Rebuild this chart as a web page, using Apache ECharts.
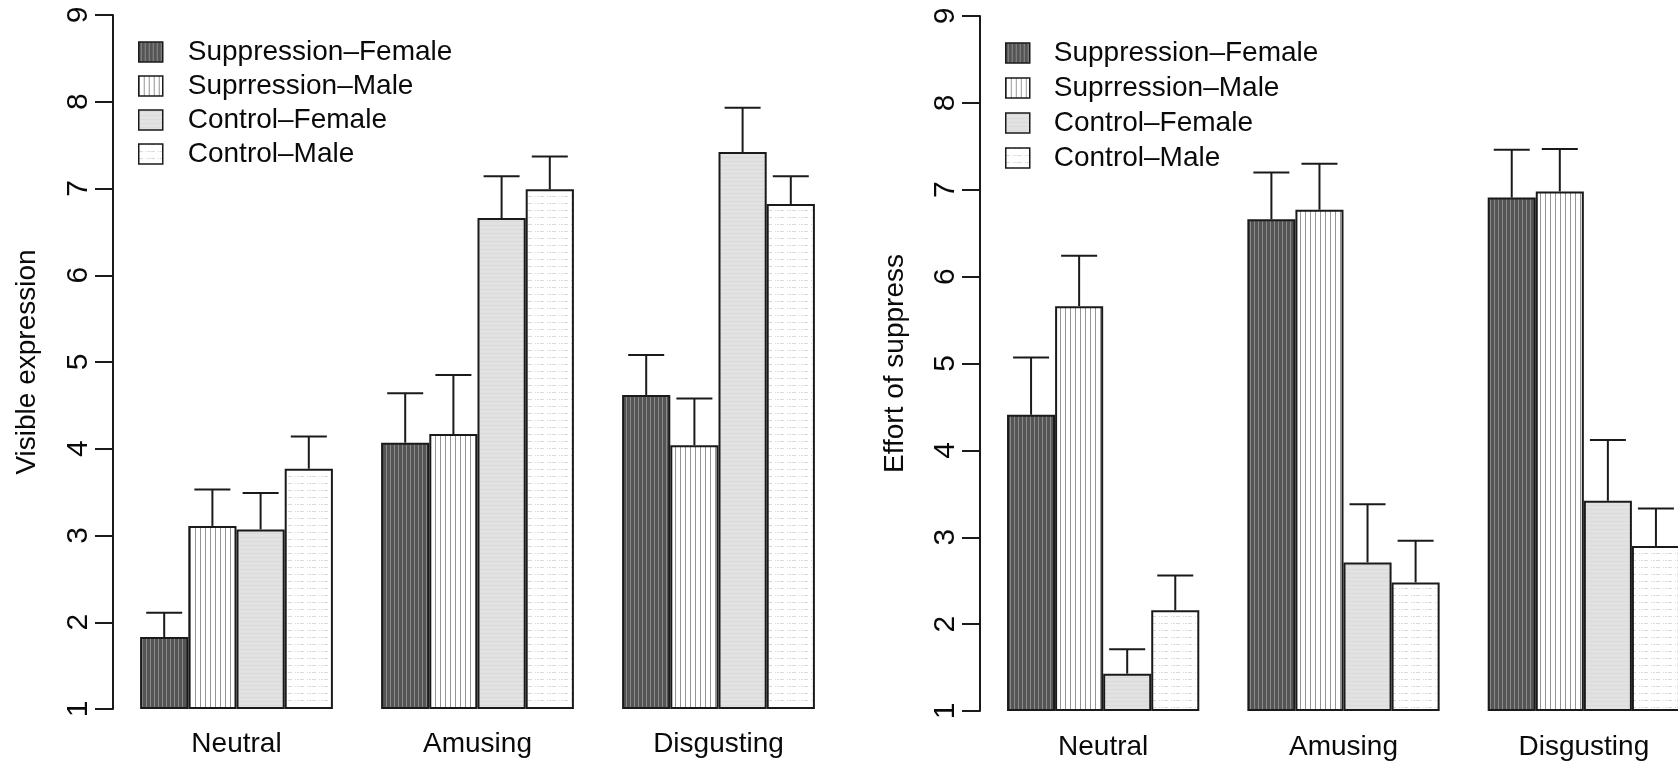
<!DOCTYPE html>
<html>
<head>
<meta charset="utf-8">
<script src="https://cdn.jsdelivr.net/npm/echarts@6/dist/echarts.min.js"></script>
<style>
  html, body { margin: 0; padding: 0; background: #fff; overflow: hidden; }
  /* wider than the window: the last bar is cut at the right edge like the scan */
  #chart { width: 1720px; height: 769px; }
</style>
</head>
<body>
<div id="chart"></div>
<script>
const categories = ["Neutral", "Amusing", "Disgusting"];
const groupNames = ["Suppression–Female", "Suprression–Male", "Control–Female", "Control–Male"];

// left panel: visible expression (bar height, top of error bar)
const visSupFemale = [1.83, 4.07, 4.62];
const visSupFemaleTop = [2.11, 4.64, 5.08];
const visSupMale = [3.11, 4.17, 4.04];
const visSupMaleTop = [3.53, 4.85, 4.58];
const visCtlFemale = [3.07, 6.66, 7.42];
const visCtlFemaleTop = [3.49, 7.14, 7.93];
const visCtlMale = [3.77, 6.99, 6.82];
const visCtlMaleTop = [4.14, 7.37, 7.14];

// right panel: effort of suppress
const effSupFemale = [4.41, 6.66, 6.91];
const effSupFemaleTop = [5.07, 7.20, 7.46];
const effSupMale = [5.66, 6.77, 6.98];
const effSupMaleTop = [6.24, 7.30, 7.47];
const effCtlFemale = [1.43, 2.71, 3.42];
const effCtlFemaleTop = [1.71, 3.38, 4.12];
const effCtlMale = [2.16, 2.48, 2.90];
const effCtlMaleTop = [2.56, 2.96, 3.33];

const yTicks = [1, 2, 3, 4, 5, 6, 7, 8, 9];
const barBase = 1; // bars rise from the bottom of the axis

const FONT = "'Liberation Sans', Arial, Helvetica, sans-serif";
const INK = "#1a1a1a";
const TEXT = "#0a0a0a";

// fill patterns like the R hatch shading
function makePattern(w, h, draw) {
  const c = document.createElement("canvas");
  c.width = w;
  c.height = h;
  draw(c.getContext("2d"));
  return { image: c, repeat: "repeat" };
}
const patDark = makePattern(4, 4, (g) => {
  g.fillStyle = "#555555";
  g.fillRect(0, 0, 4, 4);
  g.fillStyle = "#8a8a8a";
  g.fillRect(2, 0, 1, 4);
});
const patStripe = makePattern(5, 4, (g) => {
  g.fillStyle = "#ffffff";
  g.fillRect(0, 0, 5, 4);
  g.fillStyle = "#959595";
  g.fillRect(0, 0, 1, 4);
});
const patLight = makePattern(4, 4, (g) => {
  g.fillStyle = "#e2e2e2";
  g.fillRect(0, 0, 4, 4);
  g.fillStyle = "#dadada";
  g.fillRect(0, 1, 4, 1);
});
const patDots = makePattern(12, 7, (g) => {
  g.fillStyle = "#ffffff";
  g.fillRect(0, 0, 12, 7);
  g.fillStyle = "#dadada";
  g.fillRect(0, 0, 4, 1);
  g.fillRect(7, 0, 1, 1);
  g.fillRect(9, 0, 2, 1);
});
const fills = [patDark, patStripe, patLight, patDots];

const leftVals = [visSupFemale, visSupMale, visCtlFemale, visCtlMale];
const leftTops = [visSupFemaleTop, visSupMaleTop, visCtlFemaleTop, visCtlMaleTop];
const rightVals = [effSupFemale, effSupMale, effCtlFemale, effCtlMale];
const rightTops = [effSupFemaleTop, effSupMaleTop, effCtlFemaleTop, effCtlMaleTop];

function barSeries(vals, axisIdx) {
  const out = [];
  vals.forEach((v, k) => {
    const stack = "p" + axisIdx + "b" + k;
    // invisible base up to the axis minimum, so the bar's frame sits on it
    out.push({
      name: "_base",
      type: "bar",
      xAxisIndex: axisIdx,
      yAxisIndex: axisIdx,
      stack: stack,
      barWidth: "20%",
      barGap: "0%",
      silent: true,
      itemStyle: { color: "rgba(0,0,0,0)" },
      data: v.map(() => barBase),
    });
    out.push({
      name: groupNames[k],
      type: "bar",
      xAxisIndex: axisIdx,
      yAxisIndex: axisIdx,
      stack: stack,
      clip: false,
      barWidth: "20%",
      barGap: "0%",
      itemStyle: { color: fills[k], borderColor: INK, borderWidth: 2 },
      emphasis: { disabled: true },
      data: v.map((m) => m - barBase),
    });
  });
  return out;
}

function errorSeries(vals, tops, axisIdx) {
  const data = [];
  vals.forEach((v, k) => {
    v.forEach((m, i) => data.push([i, k, m, tops[k][i]]));
  });
  return {
    type: "custom",
    xAxisIndex: axisIdx,
    yAxisIndex: axisIdx,
    encode: { x: 0, y: [2, 3] },
    z: 5,
    renderItem(params, api) {
      const band = api.size([1, 0])[0];
      const k = api.value(1);
      const base = api.coord([api.value(0), api.value(2)]);
      const top = api.coord([api.value(0), api.value(3)]);
      const x = base[0] + (k - 1.5) * band * 0.2;
      const style = { stroke: INK, lineWidth: 2 };
      return {
        type: "group",
        children: [
          { type: "line", shape: { x1: x, y1: base[1], x2: x, y2: top[1] }, style },
          { type: "line", shape: { x1: x - 18, y1: top[1], x2: x + 18, y2: top[1] }, style },
        ],
      };
    },
    data: data,
  };
}

function yAxis(gridIdx, name, gap) {
  return {
    type: "value",
    gridIndex: gridIdx,
    min: yTicks[0],
    max: yTicks[yTicks.length - 1],
    interval: 1,
    offset: 3,
    name: name,
    nameLocation: "middle",
    nameGap: gap,
    nameTextStyle: { fontSize: 28, color: TEXT, fontFamily: FONT },
    splitLine: { show: false },
    axisLine: { show: true, lineStyle: { color: INK, width: 2 } },
    axisTick: { show: true, length: 18, lineStyle: { color: INK, width: 2 } },
    axisLabel: {
      rotate: 90,
      fontSize: 30,
      color: TEXT,
      fontFamily: FONT,
      margin: 19,
      formatter: (v) => String(v),
    },
  };
}

function xAxis(gridIdx, margin) {
  return {
    type: "category",
    gridIndex: gridIdx,
    data: categories,
    axisLine: { show: false },
    axisTick: { show: false },
    axisLabel: { fontSize: 28, color: TEXT, fontFamily: FONT, margin: margin },
  };
}

function legend(left, top, gap, pad) {
  return {
    orient: "vertical",
    left: left,
    top: top,
    padding: 0,
    icon: "rect",
    itemWidth: 24,
    itemHeight: 20,
    itemGap: gap,
    selectedMode: false,
    textStyle: { fontSize: 28, color: TEXT, fontFamily: FONT, padding: [0, 0, 0, pad] },
    data: groupNames.map((n) => ({ name: n, itemStyle: { borderColor: INK, borderWidth: 1.5 } })),
  };
}

const chart = echarts.init(document.getElementById("chart"), null, { renderer: "canvas" });
chart.setOption({
  backgroundColor: "#ffffff",
  animation: false,
  textStyle: { fontFamily: FONT },
  grid: [
    { left: 116, top: 15, width: 723, height: 694 },
    { left: 983, top: 16, width: 721, height: 695 },
  ],
  legend: [legend(138, 38, 6, 20), legend(1005, 39, 7, 19)],
  xAxis: [xAxis(0, 21), xAxis(1, 22)],
  yAxis: [yAxis(0, "Visible expression", 72), yAxis(1, "Effort of suppress", 71)],
  series: [
    ...barSeries(leftVals, 0),
    errorSeries(leftVals, leftTops, 0),
    ...barSeries(rightVals, 1),
    errorSeries(rightVals, rightTops, 1),
  ],
});
</script>
</body>
</html>
